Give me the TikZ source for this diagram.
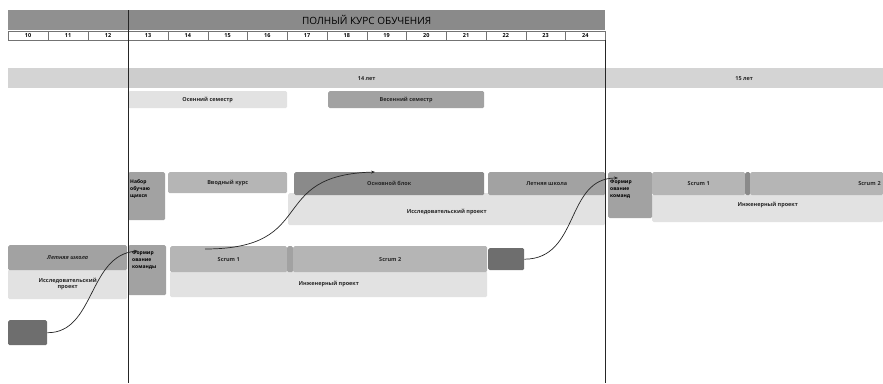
\documentclass[tikz,border=0pt]{standalone}
\usepackage{fontspec}
\setmainfont{Open Sans}
\usetikzlibrary{arrows.meta,calc}
\definecolor{hdr}{HTML}{8A8A8A}
\definecolor{gA}{HTML}{E2E2E2}
\definecolor{gB}{HTML}{CDCDCD}
\definecolor{gC}{HTML}{B5B5B5}
\definecolor{gD}{HTML}{A2A2A2}
\definecolor{gE}{HTML}{8A8A8A}
\definecolor{gF}{HTML}{6E6E6E}
\tikzset{
  box/.style={anchor=north west, inner sep=1pt, rounded corners=1.5pt, draw=none,
    font=\fontsize{5.5}{6.5}\selectfont\bfseries, text=black!85},
  cell/.style={anchor=north west, draw=black!55, line width=0.4pt, fill=white, inner sep=0pt,
    minimum width=39.75pt, minimum height=9pt, font=\fontsize{5.5}{6}\selectfont\bfseries},
  vline/.style={line width=0.8pt, draw=black!85},
  conn/.style={line width=0.7pt, draw=black!85, -{Stealth[length=4pt,width=3pt]}},
  smalltxt/.style={align=left, text width=32pt, font=\fontsize{5}{7}\selectfont\bfseries}
}
\begin{document}
\begin{tikzpicture}[x=1pt,y=-1pt]
\useasboundingbox (0,0) rectangle (883,383);
% header
\node[box, rounded corners=0pt, fill=hdr!95, minimum width=120pt, minimum height=20pt] (hl) at (8,10) {};
\node[box, rounded corners=0pt, fill=hdr, minimum width=477pt, minimum height=20pt,
  font=\fontsize{10}{12}\selectfont, text=black] (title) at (128,10) {ПОЛНЫЙ КУРС ОБУЧЕНИЯ};
% number cells
\node[cell] (n10) at (8,31) {10};
\node[cell] (n11) at (48,31) {11};
\node[cell] (n12) at (88,31) {12};
\foreach \n [count=\i from 0] in {13,...,24} {
  \node[cell] (n\n) at ({128+\i*39.75},31) {\n};
}
% age bars
\node[box, rounded corners=0pt, fill=gB!85, minimum width=120pt, minimum height=20pt] (agel) at (8,68) {};
\node[box, rounded corners=0pt, fill=gB, minimum width=477pt, minimum height=20pt] (age14) at (128,68) {14 лет};
\node[box, rounded corners=0pt, fill=gB!85, minimum width=278pt, minimum height=20pt] (age15) at (605,68) {15 лет};
% semesters
\node[box, fill=gA, minimum width=159pt, minimum height=17pt] (autumn) at (128,91) {Осенний семестр};
\node[box, fill=gD, minimum width=156pt, minimum height=17pt] (spring) at (328,91) {Весенний семестр};
% middle row
\node[box, fill=gA, minimum width=317pt, minimum height=32pt] (research) at (288,193) {};
\node at (research.center) [font=\fontsize{5.5}{6.5}\selectfont\bfseries, text=black!85, yshift=-3pt] {Исследовательский проект};
\node[box, fill=gD, minimum width=37pt, minimum height=48pt] (nabor) at (128,172) {};
\node[smalltxt, anchor=north west, inner sep=1pt] (nabortxt) at (129,178) {Набор\\обучаю\\щихся};
\node[box, fill=gC, minimum width=119pt, minimum height=21pt] (intro) at (168,172) {Вводный курс};
\node[box, fill=gE, minimum width=190pt, minimum height=23pt] (core) at (294,172) {Основной блок};
\node[box, fill=gD, minimum width=117pt, minimum height=23pt] (summer) at (488,172) {Летняя школа};
\node[box, fill=gA, minimum width=231pt, minimum height=28pt] (eng2) at (652,194) {};
\node at (eng2.center) [font=\fontsize{5.5}{6.5}\selectfont\bfseries, text=black!85, yshift=3pt] {Инженерный проект};
\node[box, fill=gD, minimum width=44pt, minimum height=46pt] (team2) at (608,172) {};
\node[smalltxt, anchor=north west, inner sep=1pt] (team2txt) at (609,179) {Формир\\ование\\команд};
\node[box, fill=gC, minimum width=93pt, minimum height=23pt] (scrum21) at (652,172) {Scrum 1};
\node[box, fill=gE, minimum width=5pt, minimum height=23pt] (div2) at (745,172) {};
\node[box, fill=gC, minimum width=133pt, minimum height=23pt, align=right, text width=128pt] (scrum22) at (750,172) {Scrum 2};
% lower row
\node[box, fill=gA, minimum width=119pt, minimum height=30pt, align=center] (research0) at (8,269) {Исследовательский\\проект};
\node[box, fill=gD, minimum width=119pt, minimum height=25pt, font=\fontsize{5.5}{6.5}\selectfont\bfseries\itshape] (summer0) at (8,245) {Летняя школа};
\node[box, fill=gA, minimum width=317pt, minimum height=26pt] (eng1) at (170,271) {};
\node at (eng1.center) [font=\fontsize{5.5}{6.5}\selectfont\bfseries, text=black!85, yshift=0pt] {Инженерный проект};
\node[box, fill=gD, minimum width=38pt, minimum height=50pt] (team1) at (128,245) {};
\node[smalltxt, anchor=north west, inner sep=1pt] (team1txt) at (131,250) {Формир\\ование\\команды};
\node[box, fill=gC, minimum width=117pt, minimum height=26pt] (scrum11) at (170,246) {Scrum 1};
\node[box, fill=gD, minimum width=6pt, minimum height=26pt] (div1) at (287,246) {};
\node[box, fill=gC, minimum width=194pt, minimum height=26pt] (scrum12) at (293,246) {Scrum 2};
\node[box, fill=gF, minimum width=36pt, minimum height=22pt] (dark1) at (488,248) {};
\node[box, fill=gF, minimum width=39pt, minimum height=25pt] (dark0) at (8,320) {};
% vertical lines
\coordinate (v1t) at (128,10);
\coordinate (v1b) at (128,383);
\coordinate (v2t) at (605,40);
\coordinate (v2b) at (605,383);
\draw[vline] (v1t) -- (v1b);
\draw[vline] (v2t) -- (v2b);
% connectors
\coordinate (e1) at (138,251);
\draw[conn] (dark0.east) .. controls (95,333) and (88,255) .. (e1);
\coordinate (s2) at (205,249);
\coordinate (e2) at (375,172);
\draw[conn] (s2) .. controls (320,249) and (265,175) .. (e2);
\coordinate (e3) at (618,178);
\draw[conn] (dark1.east) .. controls (580,259) and (565,178) .. (e3);
\end{tikzpicture}
\end{document}
